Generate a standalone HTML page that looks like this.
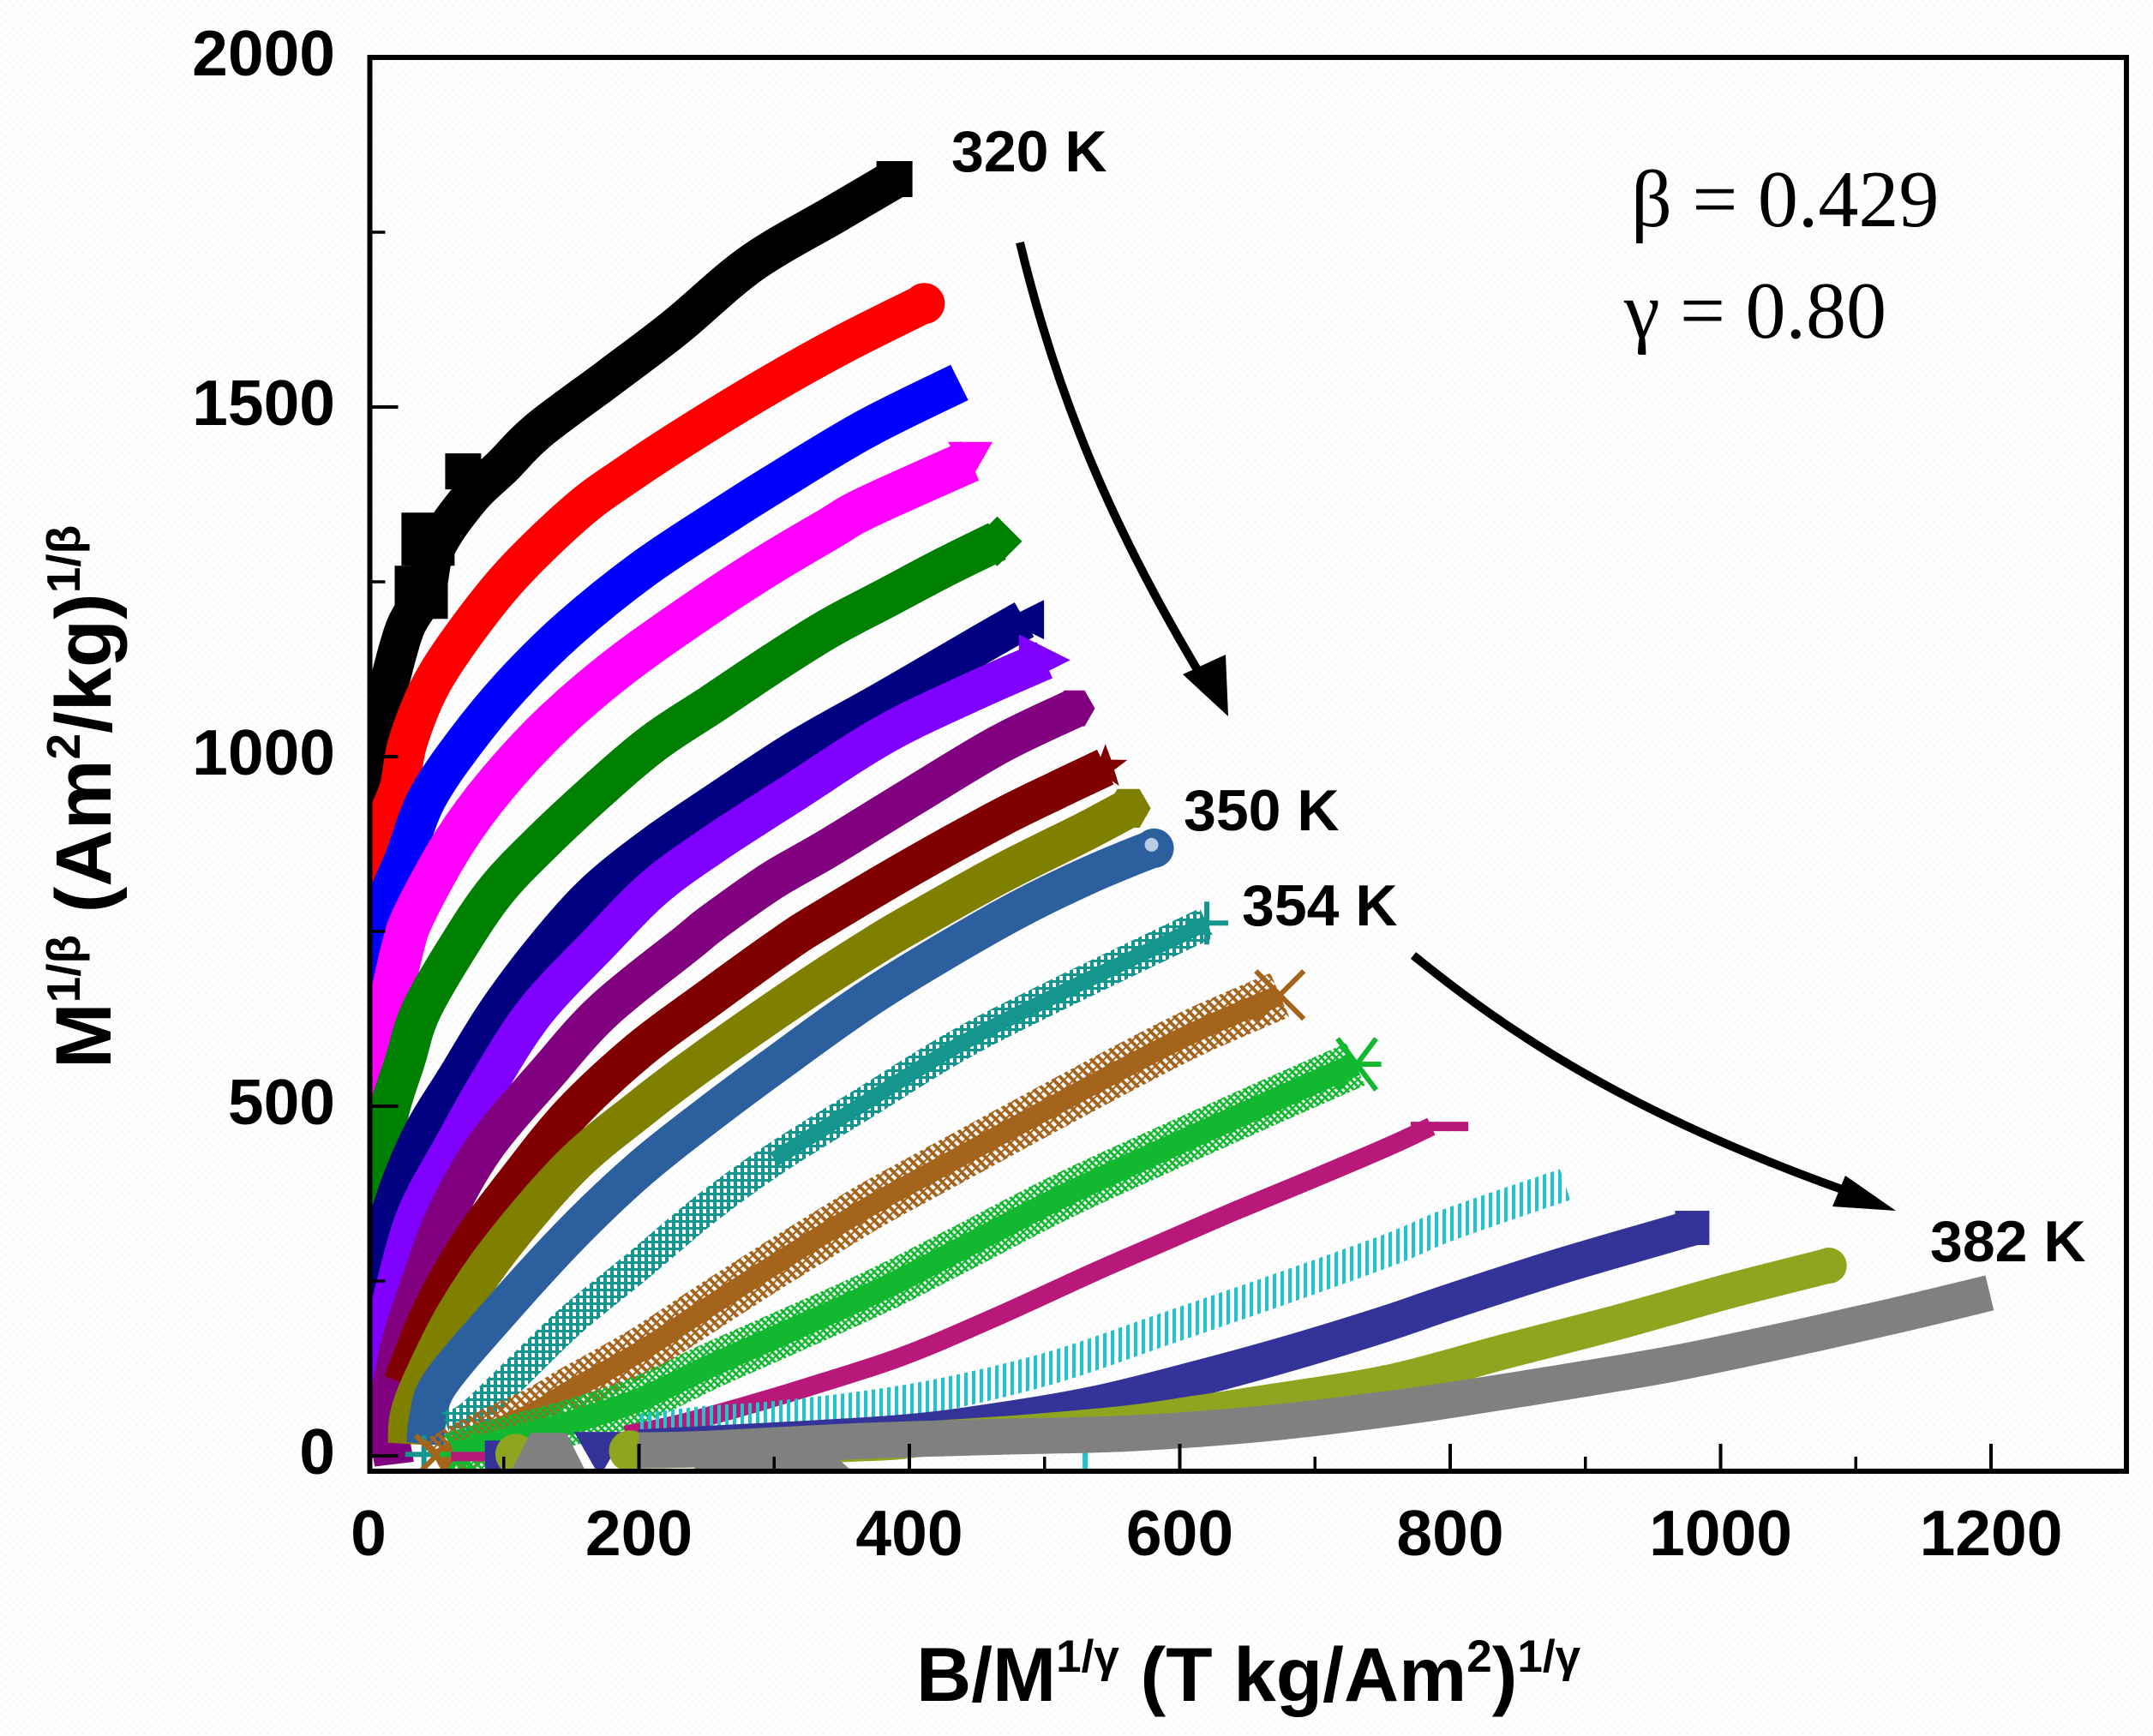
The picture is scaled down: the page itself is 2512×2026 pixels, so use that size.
<!DOCTYPE html>
<html lang="en">
<head>
<meta charset="utf-8">
<title>Modified Arrott plot</title>
<style>
html,body{margin:0;padding:0;background:#fdfefe;}
svg{display:block;}
text{font-family:"Liberation Sans",sans-serif;fill:#000;}
.serif{font-family:"Liberation Serif",serif;}
</style>
</head>
<body>
<svg id="chart" xmlns="http://www.w3.org/2000/svg" width="2512" height="2026" viewBox="0 0 2512 2026">
  <defs>
    <pattern id="speckle" width="9" height="9" patternUnits="userSpaceOnUse">
      <rect width="9" height="9" fill="#fefefe"/>
      <circle cx="2" cy="2" r="1" fill="#e9f4f4"/>
      <circle cx="6.5" cy="6.5" r="1" fill="#f3f1f3"/>
    </pattern>
    <pattern id="hatch-teal" width="8" height="8" patternUnits="userSpaceOnUse">
      <rect x="0" width="4" height="8" fill="#14968f"/>
      <rect y="0" width="8" height="3" fill="#14968f"/>
    </pattern>
    <pattern id="hatch-brown" width="8" height="8" patternUnits="userSpaceOnUse" patternTransform="rotate(-45)">
      <rect width="4" height="8" fill="#a5641c"/>
      <rect width="8" height="2" fill="#a5641c"/>
    </pattern>
    <pattern id="hatch-green" width="6" height="6" patternUnits="userSpaceOnUse" patternTransform="rotate(-45)">
      <rect width="3" height="6" fill="#12b82f"/>
      <rect width="6" height="2" fill="#12b82f"/>
    </pattern>
    <pattern id="hatch-cyan" width="9" height="9" patternUnits="userSpaceOnUse">
      <rect width="4" height="9" fill="#20c4cc"/>
    </pattern>
    <clipPath id="plot-clip"><rect x="432" y="69" width="2047" height="1646"/></clipPath>
  </defs>
  <rect width="2512" height="2026" fill="url(#speckle)"/>
  <g id="series-layer" clip-path="url(#plot-clip)"></g>
  <g id="axis-layer"></g>

  <text x="1069" y="1985" font-size="89" font-weight="700">B/M<tspan font-size="53" dy="-34">1/γ</tspan><tspan dy="34"> (T kg/Am</tspan><tspan font-size="53" dy="-34">2</tspan><tspan dy="34">)</tspan><tspan font-size="53" dy="-34">1/γ</tspan></text>
  <text transform="translate(129,1247) rotate(-90)" font-size="92" font-weight="700">M<tspan font-size="55" dy="-36">1/β</tspan><tspan dy="36"> (Am</tspan><tspan font-size="55" dy="-36">2</tspan><tspan dy="36">/kg)</tspan><tspan font-size="55" dy="-36">1/β</tspan></text>

  <text x="1110" y="200" font-size="68" font-weight="700">320 K</text>
  <text x="1381" y="969" font-size="68" font-weight="700">350 K</text>
  <text x="1449" y="1080" font-size="68" font-weight="700">354 K</text>
  <text x="2252" y="1472" font-size="68" font-weight="700">382 K</text>

  <text class="serif" x="1903" y="264" font-size="94">β = 0.429</text>
  <text class="serif" x="1895" y="394" font-size="94">γ = 0.80</text>

  <g>
    <path d="M1190 283 C1235 470,1300 620,1402 790" fill="none" stroke="#000" stroke-width="10"/>
    <polygon points="1380,787 1430,764 1433,836" fill="#000"/>
  </g>
  <g>
    <path d="M1649 1115 C1760 1205,1900 1300,2160 1392" fill="none" stroke="#000" stroke-width="10"/>
    <polygon points="2153,1372 2138,1408 2212,1413" fill="#000"/>
  </g>
</svg>

<script>
const xMajorTicks = [0, 200, 400, 600, 800, 1000, 1200];
const xMinorTicks = [100, 300, 500, 700, 900, 1100];
const yMajorTicks = [0, 500, 1000, 1500, 2000];
const yMinorTicks = [250, 750, 1250, 1750];

const x320 = [1, 2, 5, 10, 15, 27, 42, 50, 75, 99, 126, 178, 227, 283, 345, 389];
const y320 = [500, 800, 990, 1060, 1102, 1184, 1235, 1300, 1370, 1415, 1467, 1542, 1614, 1705, 1776, 1826];
const lumps320x = [70, 44, 39];
const lumps320y = [1408, 1311, 1235];

const x323 = [1, 2, 3, 4, 6, 11, 16, 23, 29, 46, 74, 108, 155, 191, 240, 298, 353, 411];
const y323 = [300, 500, 700, 799, 853, 885, 922, 958, 1020, 1102, 1184, 1265, 1352, 1403, 1465, 1533, 1592, 1648];

const x326 = [1, 3, 11, 27, 43, 71, 106, 149, 203, 259, 304, 369, 437];
const y326 = [400, 650, 775, 857, 939, 1020, 1102, 1184, 1268, 1340, 1395, 1470, 1535];

const x329 = [3, 5, 5, 8, 15, 25, 34, 63, 95, 138, 190, 254, 298, 340, 369, 445];
const y329 = [200, 347, 516, 570, 637, 725, 775, 877, 961, 1050, 1135, 1222, 1277, 1325, 1357, 1423];

const x332 = [3, 6, 6, 10, 15, 27, 39, 68, 95, 127, 169, 211, 254, 298, 340, 382, 425, 465];
const y332 = [150, 308, 370, 419, 491, 565, 637, 734, 810, 875, 951, 1020, 1075, 1132, 1183, 1226, 1270, 1308];

const x335 = [3, 6, 13, 25, 42, 65, 96, 134, 169, 211, 254, 317, 382, 446, 485];
const y335 = [100, 250, 322, 395, 468, 540, 637, 734, 808, 873, 930, 1010, 1081, 1153, 1196];

const x338 = [5, 10, 21, 36, 63, 91, 124, 171, 211, 254, 317, 382, 446, 500];
const y338 = [60, 153, 250, 347, 444, 540, 637, 734, 812, 873, 952, 1032, 1092, 1138];

const x341 = [19, 15, 23, 39, 58, 87, 131, 174, 236, 254, 298, 340, 404, 467, 522];
const y341 = [-12, 55, 153, 250, 347, 444, 545, 637, 734, 762, 822, 869, 945, 1018, 1069];

const x344 = [25, 45, 73, 110, 150, 200, 250, 309, 340, 404, 467, 509, 545];
const y344 = [104, 201, 298, 395, 490, 580, 652, 734, 772, 845, 912, 952, 985];

const x347 = [29, 30, 39, 64, 98, 150, 200, 250, 326, 376, 404, 467, 530, 562];
const y347 = [17, 55, 104, 201, 298, 414, 495, 568, 670, 732, 764, 832, 893, 926];

const x350 = [42, 44, 53, 95, 150, 200, 250, 300, 376, 467, 530, 581];
const y350 = [17, 55, 104, 201, 317, 409, 486, 558, 662, 767, 828, 869];

const x354 = [58, 75, 113, 150, 200, 250, 300, 368, 437, 512, 620];
const y354 = [42, 55, 125, 194, 273, 354, 424, 506, 588, 662, 762];
const lumps354x = [41];
const lumps354y = [2];

const x358 = [50, 88, 125, 150, 200, 250, 300, 368, 411, 487, 562, 612, 674];
const y358 = [-7, 32, 65, 94, 148, 211, 273, 354, 400, 480, 558, 607, 659];
const lumps358x = [50];
const lumps358y = [0];

const x362 = [63, 100, 150, 200, 250, 300, 376, 437, 512, 587, 662, 730];
const y362 = [2, 22, 48, 80, 126, 169, 235, 295, 370, 437, 502, 560];
const lumps362x = [68];
const lumps362y = [2];

const x366 = [190, 226, 276, 326, 393, 461, 537, 587, 637, 687, 754, 786];
const y366 = [30, 44, 70, 99, 141, 196, 263, 305, 347, 387, 442, 471];
const lumps366x = [75];
const lumps366y = [-1];

const x370 = [200, 250, 300, 376, 437, 512, 587, 662, 754, 801, 885];
const y370 = [37, 48, 55, 72, 93, 130, 180, 230, 294, 332, 388];
const lumps370x = [530];
const lumps370y = [-10];

const x374 = [200, 250, 387, 461, 537, 612, 687, 754, 801, 883, 979];
const y374 = [12, 17, 32, 49, 74, 110, 150, 190, 221, 272, 326];
const lumps374x = [100, 171, 305];
const lumps374y = [-5, 3, -12];

const x378 = [193, 250, 376, 411, 487, 562, 612, 662, 754, 842, 924, 1005, 1080];
const y378 = [7, 9, 18, 24, 34, 47, 61, 76, 105, 150, 191, 235, 272];
const lumps378x = [109, 193, 325];
const lumps378y = [2, 7, -12];

const x382 = [200, 250, 361, 461, 562, 662, 754, 801, 883, 965, 1047, 1128, 1199];
const y382 = [8, 10, 21, 27, 32, 46, 67, 80, 105, 132, 165, 200, 233];
const lumps382x = [133, 273, 323];
const lumps382y = [7, 5, 5];

const seriesList = [
  {key:'320k', xs:x320, ys:y320, color:'#000000', width:46, marker:'square', size:21, lx:lumps320x, ly:lumps320y, lumpShapes:['square','square','square'], lumpSizes:[21,31,31]},
  {key:'323k', xs:x323, ys:y323, color:'#ff0000', width:46, marker:'circle', size:24},
  {key:'326k', xs:x326, ys:y326, color:'#0000ff', width:46, marker:'none', size:0},
  {key:'329k', xs:x329, ys:y329, color:'#ff00ff', width:50, marker:'triangle-down', size:26},
  {key:'332k', xs:x332, ys:y332, color:'#008000', width:47, marker:'diamond', size:29},
  {key:'335k', xs:x335, ys:y335, color:'#000080', width:46, marker:'triangle-left', size:23},
  {key:'338k', xs:x338, ys:y338, color:'#8000ff', width:46, marker:'triangle-right', size:30},
  {key:'341k', xs:x341, ys:y341, color:'#800080', width:46, marker:'hexagon', size:24},
  {key:'344k', xs:x344, ys:y344, color:'#800000', width:45, marker:'star', size:27},
  {key:'347k', xs:x347, ys:y347, color:'#808000', width:46, marker:'hexagon', size:26},
  {key:'350k', xs:x350, ys:y350, color:'#2b5f9e', width:44, marker:'circle', size:23, highlight:true},
  {key:'354k', xs:x354, ys:y354, color:'#14968f', width:38, hatch:'hatch-teal', core:18, coreFrom:6, marker:'plus', size:25, lx:lumps354x, ly:lumps354y, lumpShapes:['plus'], lumpSizes:[22]},
  {key:'358k', xs:x358, ys:y358, color:'#a5641c', width:56, hatch:'hatch-brown', core:24, coreFrom:0, marker:'cross', size:28, lx:lumps358x, ly:lumps358y, lumpShapes:['cross'], lumpSizes:[24]},
  {key:'362k', xs:x362, ys:y362, color:'#12b82f', width:54, hatch:'hatch-green', core:27, coreFrom:0, marker:'asterisk', size:30, lx:lumps362x, ly:lumps362y, lumpShapes:['asterisk'], lumpSizes:[24]},
  {key:'366k', xs:x366, ys:y366, color:'#b8187a', width:22, marker:'dash', size:24, lx:lumps366x, ly:lumps366y, lumpShapes:['dash'], lumpSizes:[22]},
  {key:'370k', xs:x370, ys:y370, color:'#20c4cc', width:38, hatch:'hatch-cyan', core:0, marker:'none', size:0, lx:lumps370x, ly:lumps370y, lumpShapes:['vline'], lumpSizes:[14]},
  {key:'374k', xs:x374, ys:y374, color:'#333399', width:42, marker:'square', size:20, lx:lumps374x, ly:lumps374y, lumpShapes:['square','triangle-down','square'], lumpSizes:[22,30,20]},
  {key:'378k', xs:x378, ys:y378, color:'#8fa51f', width:41, marker:'circle', size:21, lx:lumps378x, ly:lumps378y, lumpShapes:['circle','circle','circle'], lumpSizes:[24,24,22]},
  {key:'382k', xs:x382, ys:y382, color:'#808080', width:42, marker:'none', size:0, lx:lumps382x, ly:lumps382y, lumpShapes:['trapezoid','flat-triangle','flat-triangle'], lumpSizes:[42,60,60]}
];

const SVG_NS = 'http://www.w3.org/2000/svg';
const X_ZERO = 430, X_PER_UNIT = 1.5775;
const Y_ZERO = 1699, Y_PER_UNIT = 0.816;
const PLOT_LEFT = 431.5, PLOT_RIGHT = 2481, PLOT_TOP = 67, PLOT_BOTTOM = 1717;

function xScale(v) { return X_ZERO + v * X_PER_UNIT; }
function yScale(v) { return Y_ZERO - v * Y_PER_UNIT; }

function make(tag, attrs, parent) {
  const el = document.createElementNS(SVG_NS, tag);
  for (const k in attrs) { el.setAttribute(k, attrs[k]); }
  parent.appendChild(el);
  return el;
}

function smoothPath(xs, ys) {
  const px = xs.map(xScale);
  const py = ys.map(yScale);
  let d = 'M' + px[0].toFixed(1) + ' ' + py[0].toFixed(1);
  for (let i = 0; i < px.length - 1; i++) {
    const a = Math.max(i - 1, 0), b = Math.min(i + 2, px.length - 1);
    const c1x = px[i] + (px[i + 1] - px[a]) / 6;
    const c1y = py[i] + (py[i + 1] - py[a]) / 6;
    const c2x = px[i + 1] - (px[b] - px[i]) / 6;
    const c2y = py[i + 1] - (py[b] - py[i]) / 6;
    d += 'C' + c1x.toFixed(1) + ' ' + c1y.toFixed(1) + ',' + c2x.toFixed(1) + ' ' + c2y.toFixed(1) + ',' + px[i + 1].toFixed(1) + ' ' + py[i + 1].toFixed(1);
  }
  return d;
}

function filledMarker(shape, cx, cy, r) {
  const poly = pts => 'M' + pts.map(p => (cx + p[0] * r).toFixed(1) + ' ' + (cy + p[1] * r).toFixed(1)).join('L') + 'Z';
  switch (shape) {
    case 'square': return poly([[-1,-1],[1,-1],[1,1],[-1,1]]);
    case 'diamond': return poly([[0,-1],[1,0],[0,1],[-1,0]]);
    case 'triangle-down': return poly([[-1,-0.85],[1,-0.85],[0,0.9]]);
    case 'flat-triangle': return poly([[-1,0.45],[1,0.45],[0,-0.45]]);
    case 'trapezoid': return poly([[-1,0.5],[1,0.5],[0.5,-0.5],[-0.5,-0.5]]);
    case 'triangle-left': return poly([[1,-1],[1,1],[-1,0]]);
    case 'triangle-right': return poly([[-1,-1],[-1,1],[1,0]]);
    case 'hexagon': return poly([[-0.5,-0.87],[0.5,-0.87],[1,0],[0.5,0.87],[-0.5,0.87],[-1,0]]);
    case 'star': return poly([[0,-1],[0.25,-0.32],[0.95,-0.31],[0.38,0.12],[0.59,0.81],[0,0.4],[-0.59,0.81],[-0.38,0.12],[-0.95,-0.31],[-0.25,-0.32]]);
    case 'circle': return 'M' + (cx - r) + ' ' + cy + 'a' + r + ' ' + r + ' 0 1 0 ' + (2 * r) + ' 0a' + r + ' ' + r + ' 0 1 0 ' + (-2 * r) + ' 0Z';
    default: return '';
  }
}

function strokeMarker(shape, cx, cy, r) {
  if (shape === 'plus') return 'M' + cx + ' ' + (cy - r) + 'V' + (cy + r) + 'M' + (cx - r) + ' ' + cy + 'H' + (cx + r);
  if (shape === 'cross') return 'M' + (cx - r) + ' ' + (cy - r) + 'L' + (cx + r) + ' ' + (cy + r) + 'M' + (cx - r) + ' ' + (cy + r) + 'L' + (cx + r) + ' ' + (cy - r);
  if (shape === 'asterisk') return 'M' + (cx - r) + ' ' + cy + 'H' + (cx + r) + 'M' + (cx - 0.7 * r) + ' ' + (cy - r) + 'L' + (cx + 0.8 * r) + ' ' + (cy + r) + 'M' + (cx - 0.7 * r) + ' ' + (cy + r) + 'L' + (cx + 0.8 * r) + ' ' + (cy - r);
  if (shape === 'dash') return 'M' + (cx - r) + ' ' + cy + 'H' + (cx + 1.8 * r);
  if (shape === 'vline') return 'M' + cx + ' ' + (cy - r) + 'V' + (cy + r);
  return '';
}

function drawMarker(shape, cx, cy, r, color, parent) {
  const isStroke = ['plus', 'cross', 'asterisk', 'dash', 'vline'].indexOf(shape) >= 0;
  if (isStroke) {
    return make('path', {d: strokeMarker(shape, cx, cy, r), fill: 'none', stroke: color, 'stroke-width': shape === 'dash' ? 11 : 6}, parent);
  }
  return make('path', {d: filledMarker(shape, cx, cy, r), fill: color}, parent);
}

const seriesLayer = document.getElementById('series-layer');
const axisLayer = document.getElementById('axis-layer');

seriesList.forEach(function (s) {
  const group = make('g', {}, seriesLayer);
  
  

  const band = make('path', {
    d: smoothPath(s.xs, s.ys), fill: 'none', 'stroke-width': s.width, 'stroke-linejoin': 'round', 'stroke-linecap': 'butt',
    stroke: s.hatch ? 'url(#' + s.hatch + ')' : s.color
  }, group);
  
  

  if (s.core) {
    const core = make('path', {
      d: smoothPath(s.xs.slice(s.coreFrom), s.ys.slice(s.coreFrom)),
      fill: 'none', 'stroke-width': s.core, 'stroke-linejoin': 'round', stroke: s.color
    }, group);
    
    
  }

  if (s.lx) {
    s.lx.forEach(function (v, i) {
      const lump = drawMarker(s.lumpShapes[i], xScale(v), yScale(s.ly[i]), s.lumpSizes[i], s.color, group);
      
      
    });
  }

  const last = s.xs.length - 1;
  const ex = xScale(s.xs[last]);
  const ey = yScale(s.ys[last]);
  if (s.marker !== 'none') {
    const mk = drawMarker(s.marker, ex, ey, s.size, s.color, group);
    
    
  }
  if (s.highlight) {
    const hl = make('circle', {cx: ex - 3, cy: ey - 4, r: 8, fill: '#b9cde6'}, group);
    
    
  }
});

const frame = make('rect', {
  x: PLOT_LEFT, y: PLOT_TOP, width: PLOT_RIGHT - PLOT_LEFT, height: PLOT_BOTTOM - PLOT_TOP,
  fill: 'none', stroke: '#000', 'stroke-width': 6
}, axisLayer);



xMajorTicks.forEach(function (v) {
  if (v > 0) {
    const t = make('line', {x1: xScale(v), x2: xScale(v), y1: PLOT_BOTTOM, y2: PLOT_BOTTOM - 32, stroke: '#000', 'stroke-width': 4}, axisLayer);
    
    
  }
  const label = make('text', {x: xScale(v), y: 1815, 'text-anchor': 'middle', 'font-size': 75, 'font-weight': 700}, axisLayer);
  label.textContent = String(v);
  
  
});
xMinorTicks.forEach(function (v) {
  const t = make('line', {x1: xScale(v), x2: xScale(v), y1: PLOT_BOTTOM, y2: PLOT_BOTTOM - 17, stroke: '#000', 'stroke-width': 3.5}, axisLayer);
  
  
});
yMajorTicks.forEach(function (v) {
  if (v < 2000) {
    const t = make('line', {x1: PLOT_LEFT, x2: PLOT_LEFT + 33, y1: yScale(v), y2: yScale(v), stroke: '#000', 'stroke-width': 4}, axisLayer);
    
    
  }
  const label = make('text', {x: 391, y: yScale(v) + 21, 'text-anchor': 'end', 'font-size': 75, 'font-weight': 700}, axisLayer);
  label.textContent = String(v);
  
  
});
yMinorTicks.forEach(function (v) {
  const t = make('line', {x1: PLOT_LEFT, x2: PLOT_LEFT + 18, y1: yScale(v), y2: yScale(v), stroke: '#000', 'stroke-width': 3.5}, axisLayer);
  
  
});
</script>
</body>
</html>
